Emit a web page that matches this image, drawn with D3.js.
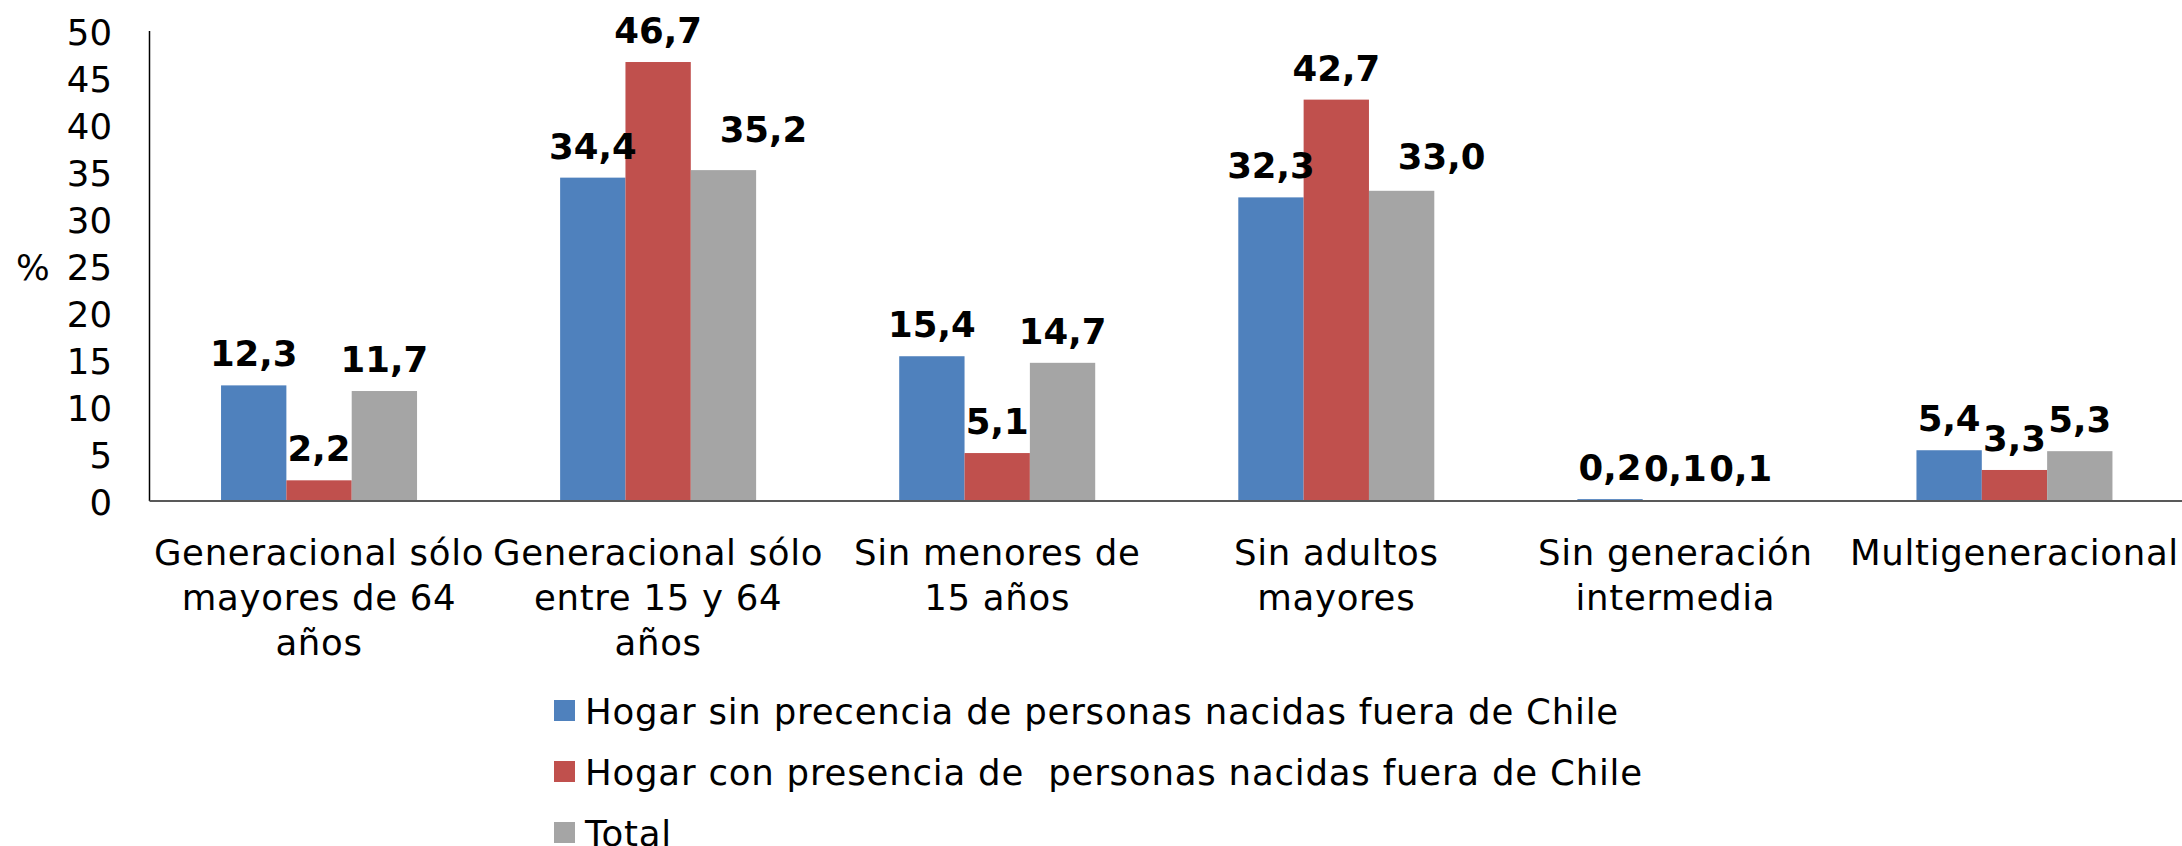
<!DOCTYPE html>
<html>
<head>
<meta charset="utf-8">
<script src="https://cdn.jsdelivr.net/npm/d3@7"></script>
<style>
  html, body { margin: 0; padding: 0; background: #fff; }
  svg text { font-family: Verdana, "DejaVu Sans", sans-serif; }
</style>
</head>
<body>
<svg id="chart" width="2182" height="846"></svg>
<script>
const categories = [
  ["Generacional sólo", "mayores de 64", "años"],
  ["Generacional sólo", "entre 15 y 64", "años"],
  ["Sin menores de", "15 años"],
  ["Sin adultos", "mayores"],
  ["Sin generación", "intermedia"],
  ["Multigeneracional"]
];
const seriesNames = [
  "Hogar sin precencia de personas nacidas fuera de Chile",
  "Hogar con presencia de  personas nacidas fuera de Chile",
  "Total"
];
const sinPresencia = [12.3, 34.4, 15.4, 32.3, 0.2, 5.4];
const conPresencia = [2.2, 46.7, 5.1, 42.7, 0.1, 3.3];
const total = [11.7, 35.2, 14.7, 33.0, 0.1, 5.3];
const yTicks = [0, 5, 10, 15, 20, 25, 30, 35, 40, 45, 50];
const colors = ["#4F81BD", "#C0504D", "#A5A5A5"];

const seriesValues = [sinPresencia, conPresencia, total];
// manual nudges of some data labels (as in the original chart): key "group-series"
const labelNudge = {"1-2": [40, -9], "3-2": [40, -3]};

const svg = d3.select("#chart");

const catIdx = categories.map((c, i) => i);
const x0 = d3.scaleBand().domain(catIdx).range([149.5, 2184]).padding(0);
const groupW = 196;
const x1 = d3.scaleBand().domain([0, 1, 2]).range([0, groupW]).padding(0);
const y = d3.scaleLinear().domain([0, 50]).range([501, 31]);

const fmt = v => d3.format(".1f")(v).replace(".", ",");

// Y tick labels
const yAxis = d3.axisLeft(y).tickValues(yTicks).tickSize(0).tickPadding(0);
const yg = svg.append("g").attr("transform", "translate(112,0)").call(yAxis);
yg.select(".domain").remove();
yg.selectAll("text")
  .attr("font-size", 35.5)
  .attr("fill", "#000")
  .attr("dy", "0.37em")
  .attr("x", 0)
  .style("font-family", 'Verdana, "DejaVu Sans", sans-serif');

// y axis line
svg.append("line")
  .attr("x1", 149.5).attr("x2", 149.5)
  .attr("y1", y(50)).attr("y2", y(0))
  .attr("stroke", "#000").attr("stroke-width", 1.5);

// % label
svg.append("text").attr("x", 16).attr("y", 280)
  .attr("font-size", 35.5).attr("fill", "#000").text("%");

// bars
const groups = svg.append("g").selectAll("g")
  .data(catIdx).join("g")
  .attr("transform", i => `translate(${x0(i) + (x0.bandwidth() - groupW) / 2},0)`);

groups.selectAll("rect")
  .data(i => seriesValues.map((s, k) => ({i, k, v: s[i]})))
  .join("rect")
  .attr("x", d => x1(d.k))
  .attr("width", x1.bandwidth())
  .attr("y", d => y(d.v))
  .attr("height", d => y(0) - y(d.v))
  .attr("fill", d => colors[d.k]);

// baseline
svg.append("line")
  .attr("x1", 149.5).attr("x2", 2182)
  .attr("y1", y(0)).attr("y2", y(0))
  .attr("stroke", "#595959").attr("stroke-width", 2);

// data labels
const nud = d => labelNudge[d.i + "-" + d.k] || [0, 0];
groups.selectAll("text.lbl")
  .data(i => seriesValues.map((s, k) => ({i, k, v: s[i]})))
  .join("text")
  .attr("class", "lbl")
  .attr("x", d => x1(d.k) + x1.bandwidth() / 2 + nud(d)[0])
  .attr("y", d => y(d.v) - 19 + nud(d)[1])
  .attr("text-anchor", "middle")
  .attr("font-size", 35.5)
  .attr("font-weight", "bold")
  .attr("fill", "#000")
  .text(d => fmt(d.v));

// category labels
const catG = svg.append("g").selectAll("text")
  .data(catIdx).join("text")
  .attr("text-anchor", "middle")
  .attr("font-size", 35.5)
  .attr("letter-spacing", 0.7)
  .attr("fill", "#000");
catG.selectAll("tspan")
  .data(i => categories[i].map((line, j) => ({i, line, j})))
  .join("tspan")
  .attr("x", d => x0(d.i) + x0.bandwidth() / 2)
  .attr("y", d => 565 + d.j * 45)
  .text(d => d.line);

// legend
const leg = svg.append("g").selectAll("g")
  .data(seriesNames.map((n, k) => ({n, k}))).join("g")
  .attr("transform", d => `translate(0,${724 + d.k * 61})`);
leg.append("rect")
  .attr("x", 554).attr("y", -24).attr("width", 21).attr("height", 21)
  .attr("fill", d => colors[d.k]);
leg.append("text")
  .attr("x", 585).attr("y", 0)
  .attr("font-size", 35.5).attr("fill", "#000")
  .attr("letter-spacing", 0.8)
  .style("white-space", "pre")
  .text(d => d.n);
</script>
</body>
</html>
